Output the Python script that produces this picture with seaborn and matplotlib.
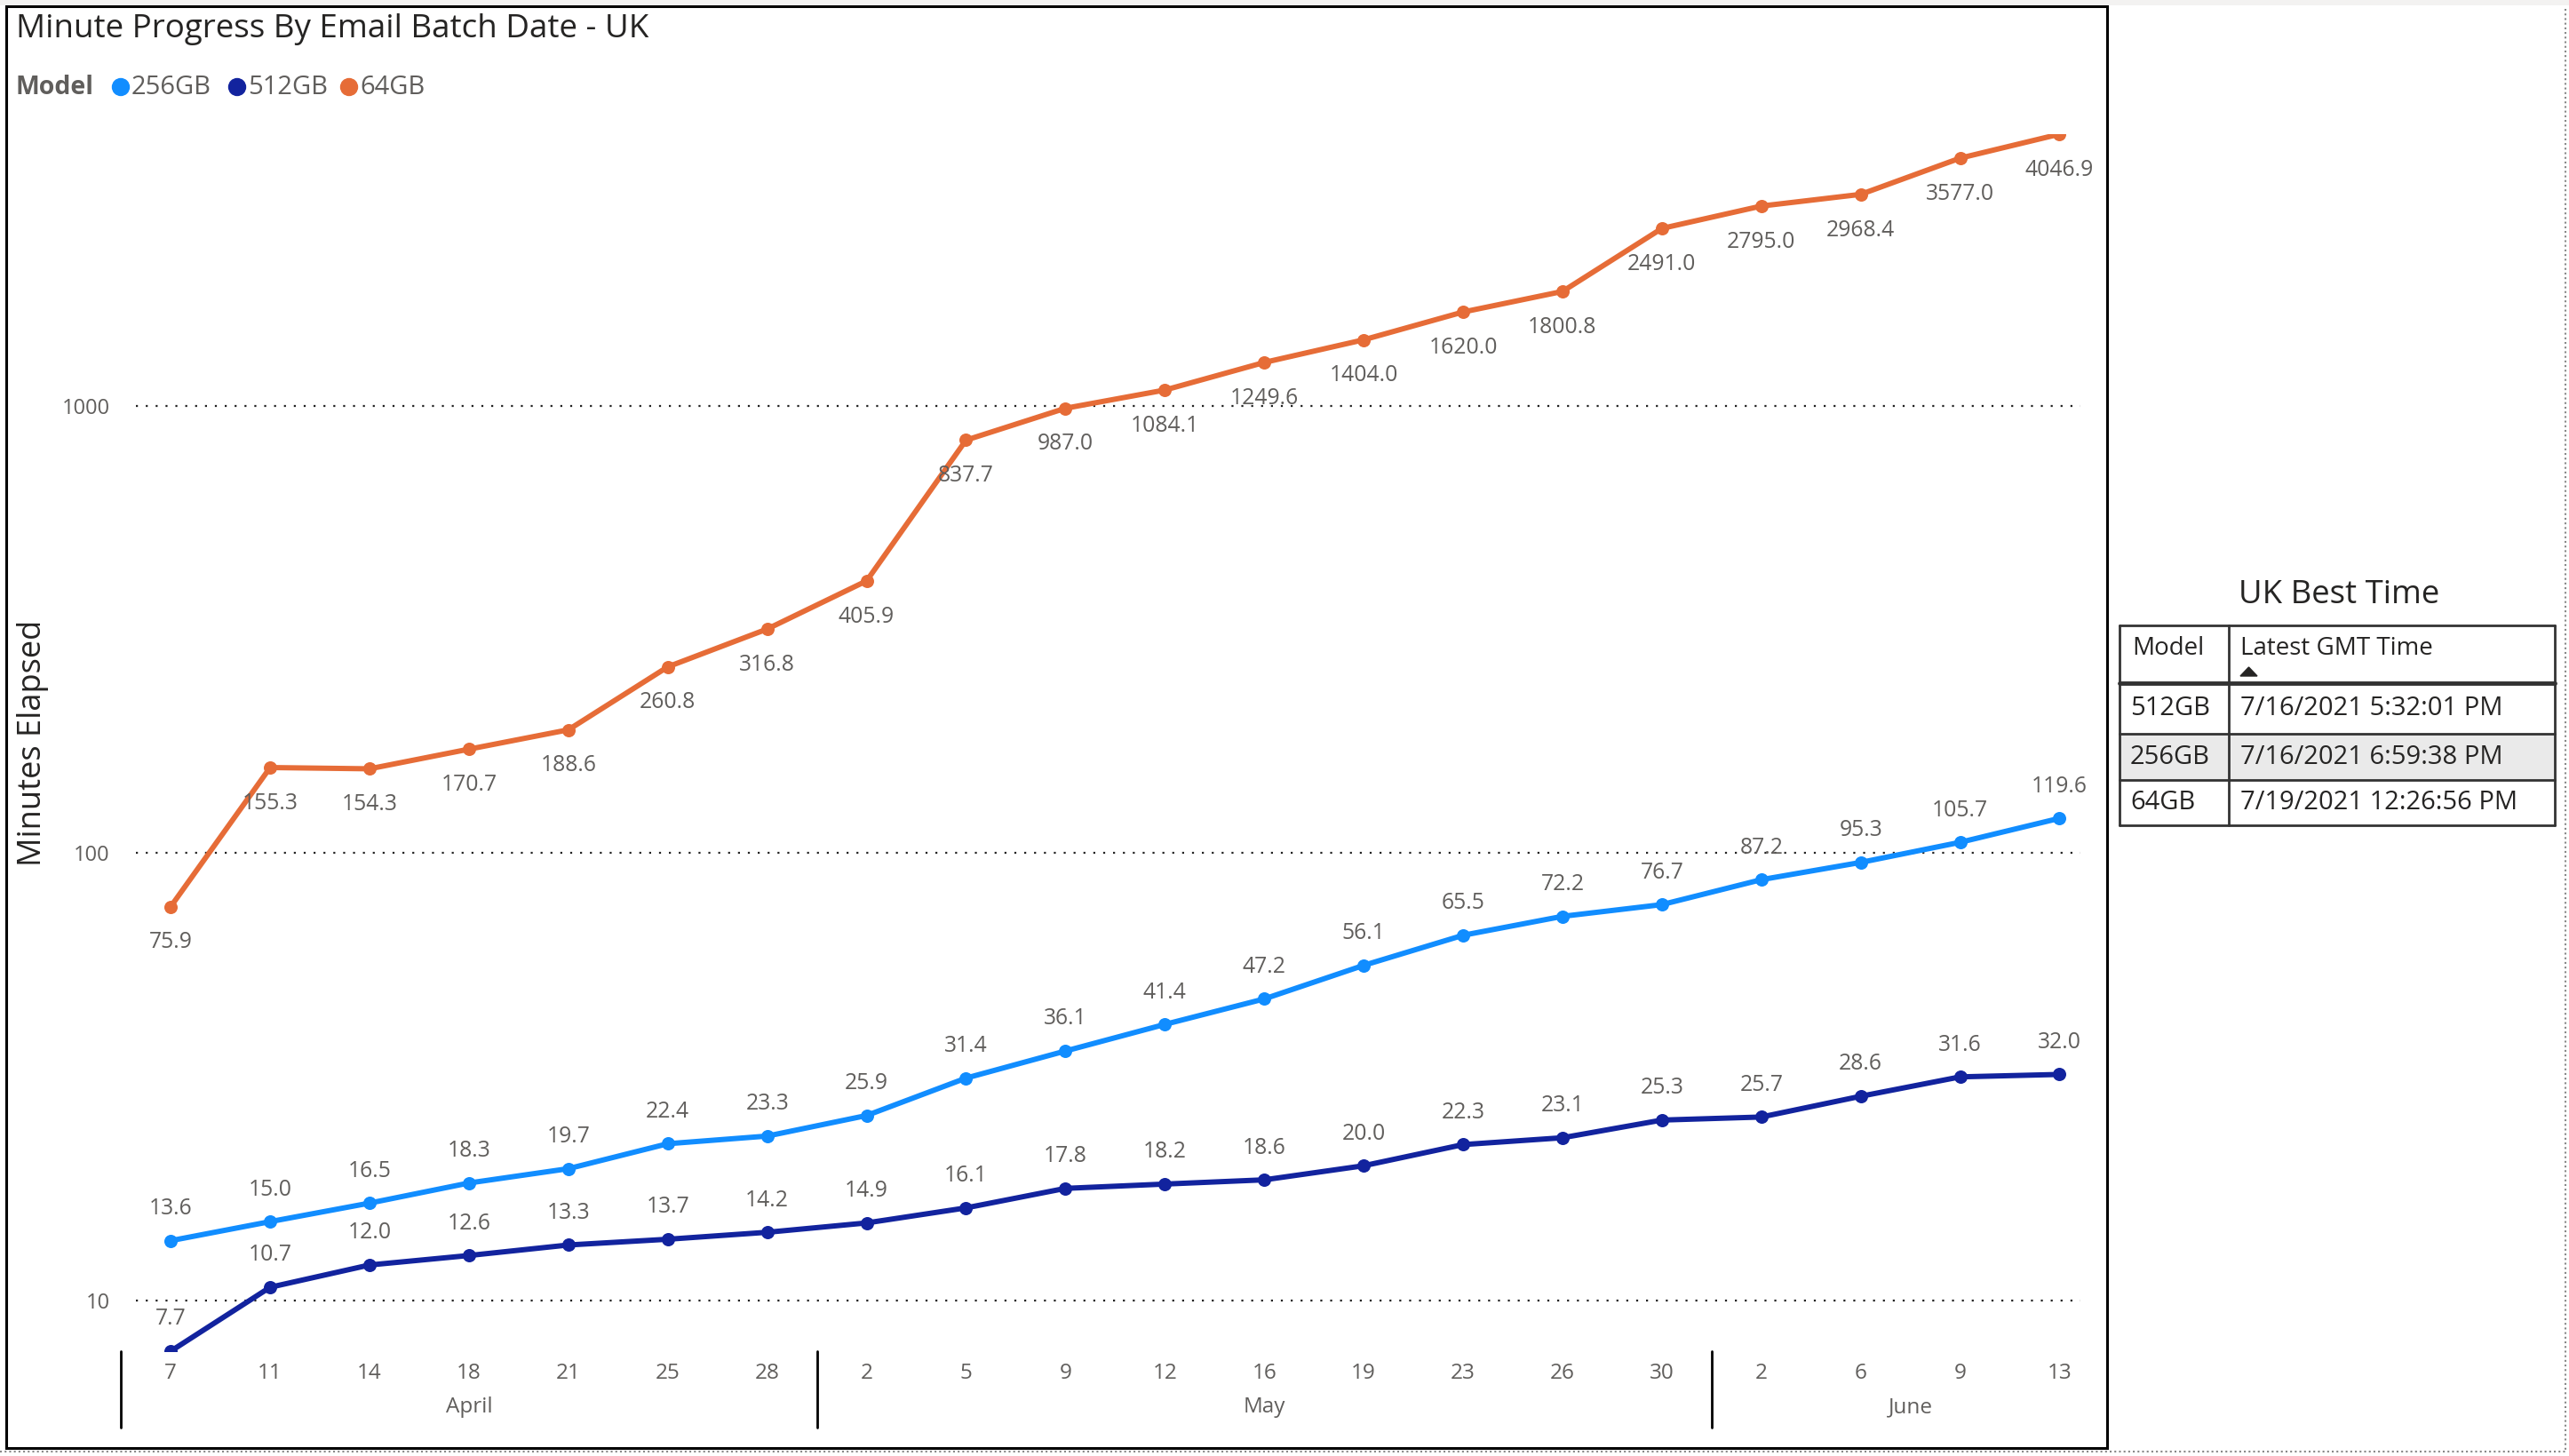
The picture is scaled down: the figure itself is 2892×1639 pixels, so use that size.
import numpy as np
import pandas as pd
import matplotlib
matplotlib.use("Agg")
import matplotlib.pyplot as plt
import matplotlib.patches as patches
import matplotlib.transforms as mtransforms
import seaborn as sns

# ---------------------------------------------------------------------------
# data
# ---------------------------------------------------------------------------
days = [7, 11, 14, 18, 21, 25, 28, 2, 5, 9, 12, 16, 19, 23, 26, 30, 2, 6, 9, 13]
months = ["April", "May", "June"]
month_sizes = [7, 9, 4]

models = ["256GB", "512GB", "64GB"]
colors = ["#118DFF", "#12239E", "#E66C37"]

vals_256 = [13.6, 15.0, 16.5, 18.3, 19.7, 22.4, 23.3, 25.9, 31.4, 36.1,
            41.4, 47.2, 56.1, 65.5, 72.2, 76.7, 87.2, 95.3, 105.7, 119.6]
vals_512 = [7.7, 10.7, 12.0, 12.6, 13.3, 13.7, 14.2, 14.9, 16.1, 17.8,
            18.2, 18.6, 20.0, 22.3, 23.1, 25.3, 25.7, 28.6, 31.6, 32.0]
vals_64 = [75.9, 155.3, 154.3, 170.7, 188.6, 260.8, 316.8, 405.9, 837.7, 987.0,
           1084.1, 1249.6, 1404.0, 1620.0, 1800.8, 2491.0, 2795.0, 2968.4, 3577.0, 4046.9]

table_models = ["512GB", "256GB", "64GB"]
table_times = ["7/16/2021 5:32:01 PM", "7/16/2021 6:59:38 PM", "7/19/2021 12:26:56 PM"]

# long table for seaborn
df = pd.DataFrame({
    "idx": list(range(len(days))) * 3,
    "Minutes": vals_256 + vals_512 + vals_64,
    "Model": [m for m in models for _ in days],
})

W, H = 2892, 1639
def fx(x):
    return x / W
def fy(y):
    return 1 - y / H

sns.set_theme(style="white")
plt.rcParams["font.family"] = ["Open Sans", "DejaVu Sans"]
grey = "#605E5C"
dark = "#252423"

fig = plt.figure(figsize=(W / 100, H / 100), dpi=100)
fig.patch.set_facecolor("white")

# ---------------------------------------------------------------------------
# main line chart
# ---------------------------------------------------------------------------
ax = fig.add_axes([fx(153), fy(1521), (2342 - 153) / W, (1521 - 151) / H])
sns.lineplot(data=df, x="idx", y="Minutes", hue="Model", hue_order=models,
             palette=colors, marker="o", markersize=10.8, markeredgewidth=0,
             linewidth=4.3, legend=False, ax=ax)
ax.set_yscale("log")
ax.set_ylim(7.7, 4046.9)
ax.set_xlim(-0.35, 19.21)
ax.set_yticks([10, 100, 1000])
ax.set_yticklabels(["10", "100", "1000"])
ax.yaxis.set_minor_locator(matplotlib.ticker.NullLocator())
ax.set_xticks(range(len(days)))
ax.set_xticklabels([str(d) for d in days])
ax.tick_params(axis="y", length=0, pad=21, labelsize=17, labelcolor=grey)
ax.tick_params(axis="x", length=0, pad=9, labelsize=17.5, labelcolor=grey)
ax.yaxis.grid(True, linestyle=(0, (1, 4)), color="#222222", linewidth=1.6)
ax.xaxis.grid(False)
for s in ax.spines.values():
    s.set_visible(False)
ax.set_xlabel("")
ax.set_ylabel("")

# data labels
offsets = {"256GB": 26, "512GB": 26, "64GB": -29}
for m, vals in zip(models, [vals_256, vals_512, vals_64]):
    for i, v in enumerate(vals):
        ax.annotate(f"{v:.1f}", (i, v), xytext=(0, offsets[m]), textcoords="offset points",
                    ha="center", va="center", fontsize=17.8, color=grey)

# month groups under the day labels
trans = mtransforms.blended_transform_factory(ax.transData, ax.transAxes)
ax_h = 1521 - 151
start = 0
for name, n in zip(months, month_sizes):
    ax.plot([start - 0.5, start - 0.5], [0, -(1607 - 1521) / ax_h], color="black",
            lw=2, transform=trans, clip_on=False)
    ax.text(start + (n - 1) / 2, -(1584 - 1521) / ax_h, name, transform=trans,
            ha="center", va="center", fontsize=17.5, color=grey)
    start += n

# y label
fig.text(fx(37), fy(836), "Minutes Elapsed", rotation=90, ha="center", va="center",
         fontsize=26, color=dark)

# title
fig.text(fx(18), fy(33), "Minute Progress By Email Batch Date - UK", ha="left", va="center",
         fontsize=26.5, color=dark)

# legend
fig.text(fx(18), fy(98), "Model", ha="left", va="center", fontsize=20.5, color=grey,
         fontweight="bold")
leg_x = [136, 267, 393]
for lx, m, c in zip(leg_x, models, colors):
    fig.add_artist(patches.Ellipse((fx(lx), fy(98)), 19 / W, 19 / H, color=c,
                                   transform=fig.transFigure))
    fig.text(fx(lx + 12), fy(98), m, ha="left", va="center", fontsize=21, color=grey)

# outer frames
fig.add_artist(patches.Rectangle((fx(7), fy(1630)), (2372 - 7) / W, (1630 - 7) / H,
                                 fill=False, edgecolor="black", lw=2.2,
                                 transform=fig.transFigure))
fig.add_artist(patches.Rectangle((0, fy(6)), 1, 6 / H, color="#F3F2F1", lw=0,
                                 transform=fig.transFigure))
fig.add_artist(plt.Line2D([fx(2888), fx(2888)], [fy(10), fy(1634)], color="#888888",
                          lw=1.5, linestyle=(0, (1, 1.5)), transform=fig.transFigure))
fig.add_artist(plt.Line2D([0, fx(2888)], [fy(1634), fy(1634)], color="#888888",
                          lw=1.5, linestyle=(0, (1, 1.5)), transform=fig.transFigure))

# ---------------------------------------------------------------------------
# side table
# ---------------------------------------------------------------------------
fig.text(fx(2633), fy(670), "UK Best Time", ha="center", va="center", fontsize=26.3, color=dark)

tl, tc, tr = 2386, 2509, 2876
row_y = [704, 769, 826, 878, 929]
# shaded row
fig.add_artist(patches.Rectangle((fx(tl), fy(row_y[3])), (tr - tl) / W, (row_y[3] - row_y[2]) / H,
                                 color="#EAEAEA", lw=0, transform=fig.transFigure))
for k, yy in enumerate(row_y):
    fig.add_artist(plt.Line2D([fx(tl), fx(tr)], [fy(yy), fy(yy)], color="#333333",
                              lw=3.5 if k == 1 else 2, transform=fig.transFigure))
for xx in [tl, tc, tr]:
    fig.add_artist(plt.Line2D([fx(xx), fx(xx)], [fy(row_y[0]), fy(row_y[-1])], color="#333333",
                              lw=2, transform=fig.transFigure))

fig.text(fx(2400), fy(730), "Model", ha="left", va="center", fontsize=20, color=dark)
fig.text(fx(2522), fy(730), "Latest GMT Time", ha="left", va="center", fontsize=20, color=dark)
fig.add_artist(patches.Polygon([(fx(2522), fy(761)), (fx(2541), fy(761)), (fx(2531.5), fy(751))],
                               closed=True, color=dark, transform=fig.transFigure))
for k, (m, t) in enumerate(zip(table_models, table_times)):
    yc = (row_y[k + 1] + row_y[k + 2]) / 2
    fig.text(fx(2398), fy(yc), m, ha="left", va="center", fontsize=21, color=dark)
    fig.text(fx(2522), fy(yc), t, ha="left", va="center", fontsize=21, color=dark)

fig.savefig("out.png", dpi=100, facecolor="white")
